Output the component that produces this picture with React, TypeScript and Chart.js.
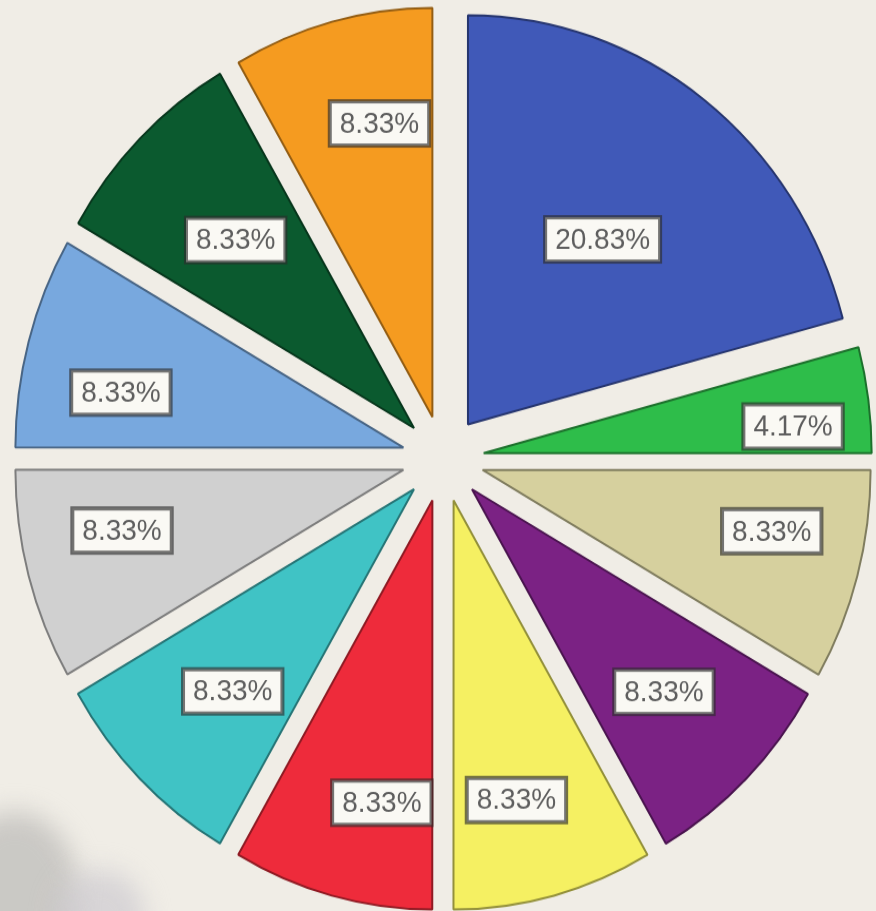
import React, { useEffect, useRef } from 'react';
import { Chart, registerables, ArcElement } from 'chart.js';

Chart.register(...registerables);

// ---- data ----
const categories = [
  'Segment 1', 'Segment 2', 'Segment 3', 'Segment 4', 'Segment 5', 'Segment 6',
  'Segment 7', 'Segment 8', 'Segment 9', 'Segment 10', 'Segment 11',
];
const shares = [20.83, 4.17, 8.33, 8.33, 8.33, 8.33, 8.33, 8.33, 8.33, 8.33, 8.33];
const sliceColors = [
  '#4059B8', '#2EBD4A', '#D6D09E', '#7B2284', '#F5F062', '#EE2B3B',
  '#40C3C5', '#D0D0D0', '#78A8DE', '#0B5A2F', '#F59B20',
];

// ---- label placement (style) ----
const labelRadius = [0.57, 0.8, 0.76, 0.7, 0.75, 0.75, 0.68, 0.74, 0.74, 0.65, 0.73];
const labelAngleShift = [0, 2.5, -3.2, 0, 2.2, -4.4, -1.4, 3, -4, 0, 3.7];

const EXPLODE = 41;
const BG = '#F0EDE6';

function darken(hex: string, amt: number) {
  const n = parseInt(hex.slice(1), 16);
  const r = Math.round(((n >> 16) & 255) * (1 - amt));
  const g = Math.round(((n >> 8) & 255) * (1 - amt));
  const b = Math.round((n & 255) * (1 - amt));
  return `rgb(${r},${g},${b})`;
}

// exploded slices: translate each arc along its bisector
const proto: any = ArcElement.prototype;
if (!proto.__exploded) {
  const baseDraw = proto.draw;
  proto.draw = function (ctx: CanvasRenderingContext2D) {
    const mid = (this.startAngle + this.endAngle) / 2;
    ctx.save();
    ctx.translate(Math.cos(mid) * EXPLODE, Math.sin(mid) * EXPLODE);
    baseDraw.call(this, ctx);
    ctx.restore();
  };
  proto.__exploded = true;
}

const shadowPlugin = {
  id: 'cornerShadow',
  beforeDatasetsDraw(chart: any) {
    const ctx = chart.ctx as CanvasRenderingContext2D;
    ctx.save();
    ctx.filter = 'blur(12px)';
    ctx.fillStyle = 'rgba(190,188,185,0.75)';
    ctx.beginPath();
    ctx.ellipse(15, 850, 65, 80, 0, 0, Math.PI * 2);
    ctx.fill();
    ctx.fillStyle = 'rgba(205,203,208,0.7)';
    ctx.beginPath();
    ctx.ellipse(100, 870, 45, 45, 0, 0, Math.PI * 2);
    ctx.fill();
    ctx.restore();
  },
};

const labelPlugin = {
  id: 'sliceLabels',
  afterDatasetsDraw(chart: any) {
    const ctx = chart.ctx as CanvasRenderingContext2D;
    const meta = chart.getDatasetMeta(0);
    ctx.save();
    ctx.font = '28px "Liberation Sans", Arial, sans-serif';
    ctx.textAlign = 'center';
    ctx.textBaseline = 'middle';
    meta.data.forEach((arc: any, i: number) => {
      const { x, y, startAngle, endAngle, outerRadius } = arc.getProps(
        ['x', 'y', 'startAngle', 'endAngle', 'outerRadius'],
        true
      );
      const a = (startAngle + endAngle) / 2 + (labelAngleShift[i] * Math.PI) / 180;
      const r = EXPLODE + labelRadius[i] * outerRadius;
      const px = x + Math.cos(a) * r;
      const py = y + Math.sin(a) * r;
      const text = shares[i].toFixed(2) + '%';
      const w = ctx.measureText(text).width + 20;
      const h = 42;
      ctx.fillStyle = '#FAF9F4';
      ctx.fillRect(px - w / 2, py - h / 2, w, h);
      ctx.lineWidth = 4;
      ctx.strokeStyle = 'rgba(45,45,45,0.65)';
      ctx.strokeRect(px - w / 2, py - h / 2, w, h);
      ctx.fillStyle = '#5E5E5E';
      ctx.fillText(text, px, py + 1);
    });
    ctx.restore();
  },
};

export default function App() {
  const ref = useRef<HTMLCanvasElement>(null);

  useEffect(() => {
    document.body.style.margin = '0';
    document.body.style.background = BG;
    const canvas = ref.current;
    if (!canvas) return;
    const chart = new Chart(canvas, {
      type: 'pie',
      data: {
        labels: categories,
        datasets: [
          {
            data: shares,
            backgroundColor: sliceColors,
            borderColor: sliceColors.map((c) => darken(c, 0.4)),
            borderWidth: 2,
            radius: 388,
          },
        ],
      },
      options: {
        responsive: false,
        animation: false,
        devicePixelRatio: 1,
        layout: { padding: { left: 10, top: 6 } },
        plugins: {
          legend: { display: false },
          tooltip: { enabled: false },
        },
      },
      plugins: [shadowPlugin, labelPlugin],
    } as any);
    return () => chart.destroy();
  }, []);

  return (
    <div
      style={{
        position: 'fixed',
        left: 0,
        top: 0,
        width: 876,
        height: 911,
        background: BG,
        overflow: 'hidden',
      }}
    >
      <canvas
        ref={ref}
        width={876}
        height={864}
        style={{ display: 'block', width: '876px', height: '911px' }}
      />
    </div>
  );
}
